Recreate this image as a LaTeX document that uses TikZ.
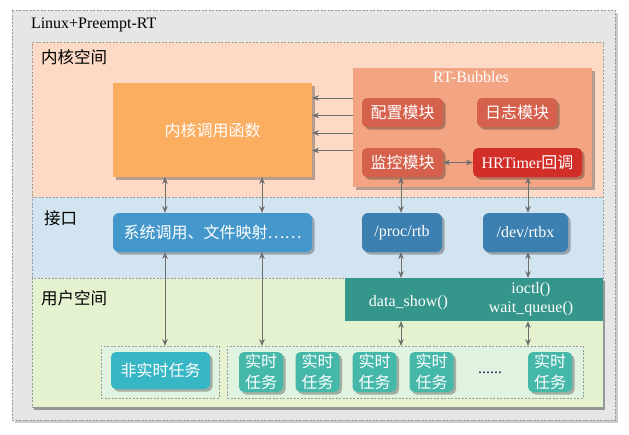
\documentclass[tikz,border=0pt]{standalone}
\usepackage{fontspec}
\setmainfont{Liberation Serif}
\newfontfamily\cjk{Noto Sans CJK SC}
\usetikzlibrary{shadows,arrows.meta}
\definecolor{outerbg}{HTML}{E6E6E6}
\definecolor{kernbg}{HTML}{FDDAC5}
\definecolor{ifbg}{HTML}{D2E4F0}
\definecolor{userbg}{HTML}{E5F2D0}
\definecolor{grpbg}{HTML}{E0F2E0}
\definecolor{kfuncc}{HTML}{FBAD60}
\definecolor{rtbc}{HTML}{F2A483}
\definecolor{modc}{HTML}{D5604C}
\definecolor{hrtc}{HTML}{D22D27}
\definecolor{sysc}{HTML}{4497CB}
\definecolor{devc}{HTML}{3B80B0}
\definecolor{tealc}{HTML}{35968B}
\definecolor{nrtc}{HTML}{37B6C5}
\definecolor{rtc}{HTML}{45B8AA}
\definecolor{arrc}{HTML}{6E6E6E}
\definecolor{dashc}{HTML}{9A9A9A}
\definecolor{dotc}{HTML}{1F2D5A}
\newcommand\bx[7]{\node[#6, minimum width=#4pt, minimum height=#5pt] (#1) at (#2,#3) {#7};}
\tikzset{
  base/.style={inner sep=0pt, outer sep=0pt},
  region/.style={base, draw=dashc, line width=0.8pt, dash pattern=on 2pt off 1.5pt},
  shd/.style={drop shadow={shadow xshift=2.5pt, shadow yshift=-2.5pt, fill=black, opacity=0.28}},
  solidbox/.style={base, shd, text=white},
  rbox/.style={solidbox, rounded corners=5pt},
  lbl/.style={base, anchor=west, text=black},
  arr/.style={draw=arrc, line width=1pt, -{Stealth[length=7pt,width=5.5pt]}},
  darr/.style={draw=arrc, line width=1pt, {Stealth[length=7pt,width=5.5pt]}-{Stealth[length=7pt,width=5.5pt]}},
}
\begin{document}
\begin{tikzpicture}[x=1pt,y=-1pt,font=\fontsize{16}{19}\selectfont]
\useasboundingbox (0,0) rectangle (629,434);
% regions
\bx{outer}{313.5}{215}{603}{410}{region, fill=outerbg, drop shadow={shadow xshift=3pt, shadow yshift=-3pt, fill=black, opacity=0.2}}{}
\bx{kern}{317.5}{119.5}{571}{155}{region, fill=kernbg}{}
\bx{intf}{317.5}{237.5}{571}{81}{region, fill=ifbg}{}
\bx{user}{317.5}{342.5}{571}{129}{region, fill=userbg, drop shadow={shadow xshift=2pt, shadow yshift=-2.5pt, fill=black, opacity=0.35}}{}
\node[lbl] (ttl) at (31,25) {Linux+Preempt-RT};
\node[lbl, font=\cjk\fontsize{16.5}{19}\selectfont] (lk) at (41,57) {内核空间};
\node[lbl, font=\cjk\fontsize{16.5}{19}\selectfont] (li) at (44,218) {接口};
\node[lbl, font=\cjk\fontsize{16.5}{19}\selectfont] (lu) at (41,298) {用户空间};
% kernel
\bx{kfunc}{212.5}{130}{199}{94}{solidbox, fill=kfuncc}{\cjk 内核调用函数}
\bx{rtb}{472.5}{127.5}{239}{119}{solidbox, fill=rtbc}{}
\node[base, text=white] (rtbt) at (471,77) {RT-Bubbles};
\bx{cfg}{402.5}{112.5}{81}{29}{rbox, fill=modc}{\cjk 配置模块}
\bx{log}{517}{112.5}{80}{29}{rbox, fill=modc}{\cjk 日志模块}
\bx{mon}{402.5}{162.5}{81}{29}{rbox, fill=modc}{\cjk 监控模块}
\bx{hrt}{527.5}{162.5}{109}{29}{rbox, fill=hrtc}{HRTimer{\cjk 回调}}
% interface
\bx{sys}{212.5}{232.5}{199}{39}{rbox, rounded corners=6pt, fill=sysc}{\cjk 系统调用、文件映射……}
\bx{proc}{402}{232.5}{80}{39}{rbox, rounded corners=6pt, fill=devc}{/proc/rtb}
\bx{dev}{525.5}{232.5}{85}{39}{rbox, rounded corners=6pt, fill=devc}{/dev/rtbx}
% user
\bx{teal}{474}{299.5}{258}{43}{base, fill=tealc}{}
\node[base, text=white] (dshow) at (408.5,303) {data\_show()};
\node[base, text=white, align=center, font=\fontsize{16}{19}\selectfont] (ioq) at (531,299.5) {ioctl()\\wait\_queue()};
\bx{nrtg}{160}{372}{118}{52}{region, fill=grpbg}{}
\bx{rtg}{405}{372}{356}{52}{region, fill=grpbg}{}
\bx{nrt}{160.5}{370.5}{99}{37}{rbox, fill=nrtc}{\cjk 非实时任务}
\tikzset{rtt/.style={rbox, fill=rtc, align=center, font=\cjk\fontsize{16}{21}\selectfont}}
\bx{t1}{261}{372}{44}{40}{rtt}{实时\\任务}
\bx{t2}{317.5}{372}{44}{40}{rtt}{实时\\任务}
\bx{t3}{374.5}{372}{44}{40}{rtt}{实时\\任务}
\bx{t4}{431.5}{372}{44}{40}{rtt}{实时\\任务}
\bx{t5}{550}{372}{44}{40}{rtt}{实时\\任务}
\node[base, text=dotc] (dots) at (490,373) {......};
% arrows
\foreach \yy in {98,115.5,133,150.5}
  \draw[arr] (rtb.west |- 0,\yy) -- (kfunc.east |- 0,\yy);
\draw[darr] (mon.east) -- (hrt.west);
\foreach \xx/\gg in {165/nrtg,262/rtg}{
  \draw[darr] (kfunc.south -| \xx,0) -- (sys.north -| \xx,0);
  \draw[darr] (sys.south -| \xx,0) -- (\gg.north -| \xx,0);
}
\foreach \xx/\aa/\bb in {401/mon/proc,528/hrt/dev}{
  \draw[darr] (\aa.south -| \xx,0) -- (\bb.north -| \xx,0);
  \draw[darr] (\bb.south -| \xx,0) -- (teal.north -| \xx,0);
  \draw[darr] (teal.south -| \xx,0) -- (rtg.north -| \xx,0);
}
\end{tikzpicture}
\end{document}
